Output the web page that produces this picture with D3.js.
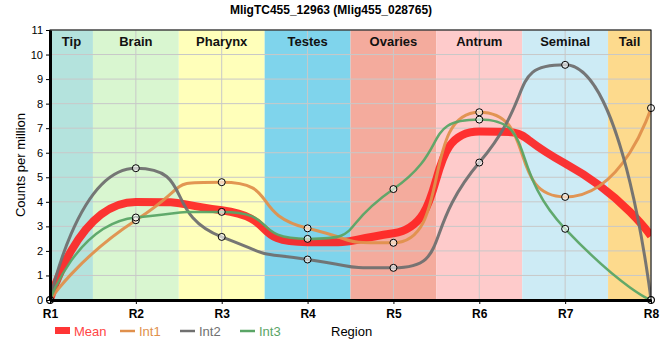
<!DOCTYPE html>
<html><head><meta charset="utf-8">
<script src="https://cdn.jsdelivr.net/npm/d3@7"></script>
<style>body{margin:0;background:#fff}svg{font-family:"Liberation Sans",Arial,sans-serif}</style>
</head><body><svg id="c" width="660" height="360"></svg>
<script>
const positions = ["R1","R2","R3","R4","R5","R6","R7","R8"];
const regions = ["Tip","Brain","Pharynx","Testes","Ovaries","Antrum","Seminal","Tail"];
const regionColors = ["#b4e3dd","#d9f6d0","#ffffba","#7fd4ec","#f4ab9d","#fecbcb","#cdebf5","#fdda8d"];
const int1 = [0, 3.25, 4.8, 2.92, 2.33, 7.65, 4.2, 7.82];
const int2 = [0, 5.37, 2.57, 1.65, 1.31, 5.6, 9.58, 0];
const int3 = [0, 3.36, 3.59, 2.49, 4.52, 7.35, 2.9, 0];
const mean = positions.map((_, i) => (int1[i] + int2[i] + int3[i]) / 3);
const yTicks = [0,1,2,3,4,5,6,7,8,9,10,11];
const seriesNames = ["Mean","Int1","Int2","Int3"];
const seriesColors = ["#ff1f1f","#e0904c","#707070","#5aa566"];

const svg = d3.select("#c");
const L = 50, R = 651, T = 30, B = 300;
const x = d3.scaleLinear().domain([0, positions.length - 1]).range([L, R]);
const y = d3.scaleLinear().domain([0, 11]).range([B, T]);

// smoothed spline through the points (long handles, no overshoot at extremes)
function spline(values) {
  const pts = values.map((v, i) => ({ x: x(i), y: y(v) }));
  const h = 0.68;
  const p = d3.path();
  p.moveTo(pts[0].x, pts[0].y);
  let prevR = null;
  for (let i = 1; i < pts.length; i++) {
    const pt = pts[i], last = pts[i - 1], next = pts[i + 1];
    let lcx = pt.x, lcy = pt.y, rc = null;
    if (next) {
      lcx = pt.x + h * (last.x - pt.x); lcy = pt.y + h * (last.y - pt.y);
      const rcx = pt.x + h * (next.x - pt.x); let rcy = pt.y + h * (next.y - pt.y);
      const corr = ((rcy - lcy) * (rcx - pt.x)) / (rcx - lcx) + pt.y - rcy;
      lcy += corr; rcy += corr;
      if (lcy > last.y && lcy > pt.y) { lcy = Math.max(last.y, pt.y); rcy = 2 * pt.y - lcy; }
      else if (lcy < last.y && lcy < pt.y) { lcy = Math.min(last.y, pt.y); rcy = 2 * pt.y - lcy; }
      if (rcy > next.y && rcy > pt.y) { rcy = Math.max(next.y, pt.y); lcy = 2 * pt.y - rcy; }
      else if (rcy < next.y && rcy < pt.y) { rcy = Math.min(next.y, pt.y); lcy = 2 * pt.y - rcy; }
      rc = { x: rcx, y: rcy };
    }
    const c1 = prevR || last;
    p.bezierCurveTo(c1.x, c1.y, lcx, lcy, pt.x, pt.y);
    prevR = rc;
  }
  return p.toString();
}

// bands
const bx0 = i => x(Math.max(0, i - 0.5)), bx1 = i => x(Math.min(positions.length - 1, i + 0.5));
svg.append("g").selectAll("rect").data(regions).join("rect")
  .attr("x", (d, i) => bx0(i)).attr("width", (d, i) => bx1(i) - bx0(i))
  .attr("y", T).attr("height", B - T)
  .attr("fill", (d, i) => regionColors[i]);

// grid
const g = svg.append("g");
g.selectAll("line.h").data(yTicks).join("line")
  .attr("x1", L).attr("x2", R).attr("y1", d => y(d)).attr("y2", d => y(d))
  .attr("stroke", "#c8c8c8").attr("stroke-width", 1);
g.selectAll("line.v").data(positions).join("line")
  .attr("y1", T).attr("y2", B).attr("x1", (d, i) => x(i)).attr("x2", (d, i) => x(i))
  .attr("stroke", "#c8c8c8").attr("stroke-width", 1);

// band labels
svg.append("g").selectAll("text").data(regions).join("text")
  .attr("x", (d, i) => (bx0(i) + bx1(i)) / 2)
  .attr("y", 46).attr("text-anchor", "middle")
  .attr("font-size", 13).attr("font-weight", "bold").attr("fill", "#111")
  .text(d => d);

// lines
svg.append("clipPath").attr("id", "pc").append("rect")
  .attr("x", L).attr("y", T - 10).attr("width", R - L).attr("height", B - T + 10);
const lg = svg.append("g").attr("clip-path", "url(#pc)");
lg.append("path").attr("d", spline(mean)).attr("fill", "none")
  .attr("stroke", seriesColors[0]).attr("stroke-width", 8).attr("stroke-opacity", 0.9);
[[int1, 1, 3], [int2, 2, 3], [int3, 3, 2.5]].forEach(([s, ci, w]) => {
  lg.append("path").attr("d", spline(s)).attr("fill", "none")
    .attr("stroke", seriesColors[ci]).attr("stroke-width", w).attr("stroke-opacity", 0.95);
});
[int1, int2, int3].forEach(s => {
  svg.append("g").selectAll("circle").data(s).join("circle")
    .attr("cx", (d, i) => x(i)).attr("cy", d => y(d)).attr("r", 3.5)
    .attr("fill", "#fff").attr("fill-opacity", 0.6).attr("stroke", "#000").attr("stroke-width", 1);
});

// frame
svg.append("rect").attr("x", L).attr("y", T).attr("width", R - L).attr("height", B - T)
  .attr("fill", "none").attr("stroke", "#000").attr("stroke-width", 1);

// axes
const ya = svg.append("g").attr("transform", `translate(${L},0)`)
  .call(d3.axisLeft(y).tickValues(yTicks).tickSize(4).tickSizeOuter(0).tickFormat(d3.format("d")));
ya.select(".domain").attr("stroke-width", 3);
ya.selectAll("text").attr("font-size", 11).attr("font-family", "Liberation Sans, Arial, sans-serif").attr("fill", "#000");
const xa = svg.append("g").attr("transform", `translate(0,${B})`)
  .call(d3.axisBottom(x).tickValues(d3.range(positions.length)).tickSize(4).tickSizeOuter(0).tickFormat(i => positions[i]));
xa.select(".domain").attr("stroke-width", 3);
xa.selectAll("text").attr("font-size", 12).attr("font-weight", "bold")
  .attr("font-family", "Liberation Sans, Arial, sans-serif").attr("fill", "#000").attr("dy", "0.9em");

// title
svg.append("text").attr("x", 331).attr("y", 14).attr("text-anchor", "middle")
  .attr("font-size", 12).attr("font-weight", "bold").text("MligTC455_12963 (Mlig455_028765)");
// axis titles
svg.append("text").attr("transform", "translate(25,165) rotate(-90)").attr("text-anchor", "middle")
  .attr("font-size", 13).text("Counts per million");
svg.append("text").attr("x", 331).attr("y", 336).attr("font-size", 13).text("Region");

// legend
const legX = [55, 120, 180, 240];
const leg = svg.append("g");
seriesNames.forEach((n, i) => {
  if (i === 0) {
    leg.append("rect").attr("x", legX[i]).attr("y", 327).attr("width", 15).attr("height", 7).attr("fill", seriesColors[i]).attr("opacity", 0.9);
  } else {
    leg.append("line").attr("x1", legX[i]).attr("x2", legX[i] + 15).attr("y1", 331).attr("y2", 331)
      .attr("stroke", seriesColors[i]).attr("stroke-width", 2.5);
  }
  leg.append("text").attr("x", legX[i] + 19).attr("y", 336).attr("font-size", 13)
    .attr("fill", i === 0 ? "#ff4545" : seriesColors[i]).text(n);
});
</script></body></html>
